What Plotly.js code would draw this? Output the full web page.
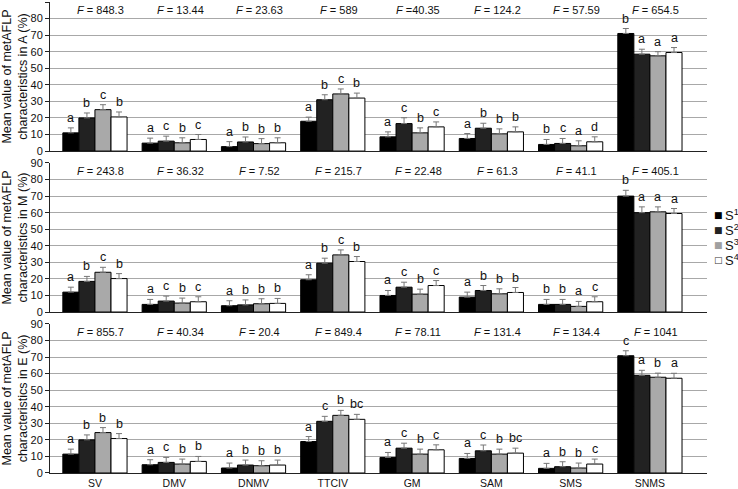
<!DOCTYPE html>
<html>
<head>
<meta charset="utf-8">
<script src="https://cdn.plot.ly/plotly-3.0.1.min.js"></script>
<style>html,body{margin:0;padding:0;background:#fff;}#chart{width:738px;height:489px;}</style>
</head>
<body>
<div id="chart"></div>
<script>
// ---------- DATA ----------
const categories = ['SV', 'DMV', 'DNMV', 'TTCIV', 'GM', 'SAM', 'SMS', 'SNMS'];
const seriesNames = ['S1', 'S2', 'S3', 'S4'];
const panelLetters = ['A', 'M', 'E'];

// Panel A
const A_S1 = [11.0, 4.8, 2.7, 18.0, 8.6, 7.6, 4.0, 71.0];
const A_S2 = [20.0, 6.0, 5.5, 31.0, 16.6, 13.8, 4.6, 58.5];
const A_S3 = [25.0, 5.0, 4.5, 34.5, 11.0, 10.4, 3.2, 57.5];
const A_S4 = [20.6, 7.0, 5.0, 32.0, 14.6, 11.6, 5.6, 59.5];
// Panel M
const M_S1 = [12.0, 4.6, 3.8, 19.5, 10.0, 9.0, 4.6, 70.0];
const M_S2 = [18.5, 6.6, 4.3, 29.5, 15.0, 13.0, 4.6, 60.0];
const M_S3 = [24.0, 5.4, 5.0, 34.5, 10.8, 11.0, 3.4, 60.5];
const M_S4 = [20.2, 6.2, 5.2, 30.5, 16.0, 11.8, 6.2, 59.5];
// Panel E
const E_S1 = [11.4, 5.0, 3.0, 19.0, 9.4, 8.8, 2.8, 70.8];
const E_S2 = [20.0, 6.4, 4.8, 31.2, 15.0, 13.4, 3.8, 59.0];
const E_S3 = [24.4, 5.4, 4.4, 34.8, 11.4, 11.4, 3.0, 57.8];
const E_S4 = [20.8, 7.0, 4.8, 32.4, 14.0, 12.0, 5.4, 57.2];

// Error (upper) values
const A_err = [[3, 3, 3, 2.5, 3, 3, 3, 3], [3, 3, 3, 3, 3.5, 3, 3, 3], [3, 3, 3, 3, 3, 3, 3, 2.5], [3, 3, 3, 3, 3, 3, 3, 3]];
const M_err = [[3, 3, 3, 3, 3, 3, 3, 3.5], [3, 3, 3, 3, 3, 3, 3, 3.5], [3, 3, 3, 3, 3, 3, 3, 3], [3, 3, 3, 3, 3, 3, 3, 3]];
const E_err = [[3, 3, 3, 3, 3, 3, 3, 3], [3, 3, 3, 3, 3, 3.5, 3, 3], [3, 3, 3, 3, 3, 3, 3, 2.5], [3, 3, 3, 3, 3, 3, 3, 3]];

// Significance letters [category][series]
const A_letters = [['a','b','c','b'],['a','c','b','c'],['a','b','b','b'],['a','b','c','b'],['a','c','b','c'],['a','b','b','b'],['b','c','a','d'],['b','a','a','a']];
const M_letters = [['a','b','c','b'],['a','c','b','c'],['a','b','b','b'],['a','b','c','b'],['a','c','b','c'],['a','b','b','b'],['b','b','a','c'],['b','a','a','a']];
const E_letters = [['a','b','b','b'],['a','c','b','b'],['a','b','b','b'],['a','c','b','bc'],['a','c','b','c'],['a','c','b','bc'],['a','b','b','c'],['c','a','b','a']];

// F statistics
const A_F = ['848.3', '13.44', '23.63', '589', '=40.35', '124.2', '57.59', '654.5'];
const M_F = ['243.8', '36.32', '7.52', '215.7', '22.48', '61.3', '41.1', '405.1'];
const E_F = ['855.7', '40.34', '20.4', '849.4', '78.11', '131.4', '134.4', '1041'];

// ---------- BUILD ----------
const panels = [
  {vals: [A_S1, A_S2, A_S3, A_S4], err: A_err, letters: A_letters, F: A_F},
  {vals: [M_S1, M_S2, M_S3, M_S4], err: M_err, letters: M_letters, F: M_F},
  {vals: [E_S1, E_S2, E_S3, E_S4], err: E_err, letters: E_letters, F: E_F}
];
const colors = ['#000000', '#222222', '#a9a9a9', '#ffffff'];
const BARGAP = 0.19;
const barW = (1 - BARGAP) / seriesNames.length;
const xIdx = categories.map((c, i) => i);

const FONT = 'Liberation Sans, Arial, sans-serif';
const traces = [];
const annotations = [];
const layout = {
  width: 738, height: 489,
  margin: {l: 50, r: 31, t: 2, b: 16},
  paper_bgcolor: '#fff', plot_bgcolor: '#fff',
  barmode: 'group', bargap: BARGAP, bargroupgap: 0,
  showlegend: false,
  font: {family: FONT, size: 11, color: '#111'},
  annotations: annotations
};

const domains = [[0.6835, 1], [0.3418, 0.6582], [0, 0.3165]];

panels.forEach((p, k) => {
  const ax = k === 0 ? '' : String(k + 1);
  p.vals.forEach((v, j) => {
    traces.push({
      type: 'bar', x: xIdx, y: v, name: seriesNames[j],
      xaxis: 'x' + ax, yaxis: 'y' + ax,
      marker: {color: colors[j], line: {color: '#000', width: 1}},
      error_y: {type: 'data', symmetric: false, array: p.err[j], arrayminus: v.map(() => 0),
                color: '#777', thickness: 1, width: 3},
      hoverinfo: 'skip'
    });
    v.forEach((val, i) => {
      annotations.push({
        xref: 'x' + ax, yref: 'y' + ax,
        x: i + (j - (seriesNames.length - 1) / 2) * barW,
        y: val + p.err[j][i], yanchor: 'bottom', yshift: 1,
        text: p.letters[i][j], showarrow: false,
        font: {family: FONT, size: 12.5, color: '#111'}
      });
    });
  });
  p.F.forEach((f, i) => {
    const txt = f.startsWith('=') ? '<i>F</i> ' + f : '<i>F</i> = ' + f;
    annotations.push({
      xref: 'x' + ax, yref: 'y' + ax, x: i, xshift: 6, y: 85.3, yanchor: 'middle',
      text: txt, showarrow: false, font: {family: FONT, size: 11, color: '#111'}
    });
  });
  layout['xaxis' + ax] = {
    domain: [0, 1], anchor: 'y' + ax, range: [-0.567, 7.72],
    tickvals: xIdx, ticktext: categories, showticklabels: k === 2,
    ticks: '', showgrid: false, zeroline: false,
    showline: true, linecolor: '#222', linewidth: 1,
    tickfont: {family: FONT, size: 10.5, color: '#111'}
  };
  layout['yaxis' + ax] = {
    domain: domains[k], anchor: 'x' + ax, range: [0, 90], dtick: 10,
    showgrid: true, gridcolor: '#a8a8a8', gridwidth: 1, zeroline: false,
    showline: true, linecolor: '#222', linewidth: 1,
    ticks: 'outside', ticklen: 4, tickcolor: '#222',
    tickfont: {family: FONT, size: 11, color: '#111'},
    title: {text: 'Mean value of metAFLP<br>characteristics in ' + panelLetters[k] + ' (%)',
            font: {family: FONT, size: 12.5, color: '#111'}, standoff: 6},
    automargin: false
  };
});

// Legend (drawn as text, placed beside the middle panel)
const legendLevels = [58.5, 49.5, 40.5, 31.5];
const legendSym = ['■', '■', '■', '□'];
const legendSymColor = ['#000', '#222', '#a0a0a0', '#333'];
seriesNames.forEach((s, j) => {
  annotations.push({
    xref: 'paper', yref: 'y2', x: 1.0175, y: legendLevels[j], xanchor: 'center', yanchor: 'middle',
    text: legendSym[j], showarrow: false, borderpad: 0,
    font: {family: 'DejaVu Sans, sans-serif', size: 9, color: legendSymColor[j]}
  });
  annotations.push({
    xref: 'paper', yref: 'y2', x: 1.0255, y: legendLevels[j], xanchor: 'left', yanchor: 'middle',
    text: 'S<sup>' + (j + 1) + '</sup>', showarrow: false, borderpad: 0,
    font: {family: FONT, size: 13, color: '#111'}
  });
});

Plotly.newPlot('chart', traces, layout, {staticPlot: true, displayModeBar: false});
</script>
</body>
</html>
